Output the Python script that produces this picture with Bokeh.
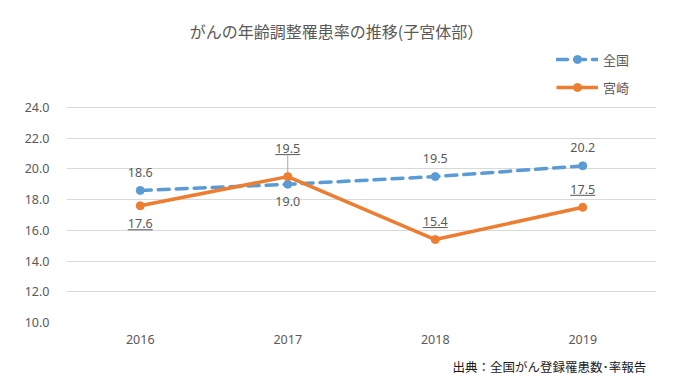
from bokeh.plotting import figure
from bokeh.models import (Range1d, FixedTicker, Legend, LegendItem, Label,
                          ColumnDataSource, Title)
from bokeh.core.properties import value
from bokeh.embed import file_html
from bokeh.resources import INLINE

# ---- data ----
years = ["2016", "2017", "2018", "2019"]
national = [18.6, 19.0, 19.5, 20.2]
miyazaki = [17.6, 19.5, 15.4, 17.5]
y_ticks = [10, 12, 14, 16, 18, 20, 22, 24]
title_text = "がんの年齢調整罹患率の推移(子宮体部）"
source_text = "出典：全国がん登録罹患数･率報告"
series_names = ["全国", "宮崎"]

BLUE = "#5B9BD5"
ORANGE = "#ED7D31"
GREY = "#595959"
JP = "Noto Sans CJK JP"
NUM = "Noto Sans"

# layout (pixels)
FRAME_H = 322            # frame spans from top of figure to the 10.0 gridline
PLOT_H = 215             # pixel distance between 10.0 and 24.0
px_per_unit = PLOT_H / (y_ticks[-1] - y_ticks[0])
y_top = y_ticks[0] + FRAME_H / px_per_unit

xs = list(range(len(years)))

p = figure(width=686, height=383, output_backend="svg", toolbar_location=None,
           x_range=Range1d(-0.5, len(years) - 0.5),
           y_range=Range1d(y_ticks[0], y_top),
           min_border_left=66, min_border_right=30, min_border_top=0,
           min_border_bottom=61)
p.outline_line_color = None
p.background_fill_color = "white"
p.border_fill_color = "white"

# axes
p.xaxis.ticker = FixedTicker(ticks=xs)
p.xaxis.major_label_overrides = {i: y for i, y in enumerate(years)}
p.yaxis.ticker = FixedTicker(ticks=y_ticks)
p.yaxis.major_label_overrides = {t: f"{t:.1f}" for t in y_ticks}
for ax in (p.xaxis[0], p.yaxis[0]):
    ax.axis_line_color = None
    ax.major_tick_line_color = None
    ax.minor_tick_line_color = None
    ax.major_tick_out = 0
    ax.major_tick_in = 0
    ax.major_label_text_color = GREY
    ax.major_label_text_font = NUM
    ax.major_label_text_font_size = "12.5px"
p.yaxis.major_label_standoff = 17
p.xaxis.major_label_standoff = 12
p.xgrid.grid_line_color = None
p.ygrid.ticker = FixedTicker(ticks=y_ticks)
p.ygrid.grid_line_color = "#D9D9D9"
p.ygrid.grid_line_width = 1

# series
r_nat_line = p.line(xs, national, line_color=BLUE, line_width=3.5,
                    line_dash="11 7", line_cap="round")
r_nat_pt = p.scatter(xs, national, size=8, fill_color=BLUE, line_color=BLUE)
r_miy_line = p.line(xs, miyazaki, line_color=ORANGE, line_width=3.5,
                    line_join="round")
r_miy_pt = p.scatter(xs, miyazaki, size=8, fill_color=ORANGE, line_color=ORANGE)

# data labels
nat_off = [-18, 17, -18, -18]
miy_off = [18, -28, -18, -18]
nat_src = ColumnDataSource(dict(x=xs, y=national, t=[f"{v:.1f}" for v in national], o=nat_off))
miy_src = ColumnDataSource(dict(x=xs, y=miyazaki, t=[f"{v:.1f}" for v in miyazaki], o=miy_off))
for src in (nat_src, miy_src):
    p.text(x="x", y="y", text="t", y_offset="o", source=src,
           text_align="center", text_baseline="middle",
           text_font=value(NUM), text_font_size="12.5px", text_color=GREY)

# underlines for the Miyazaki labels (px -> data units)
px_per_cat = 147.5
half_w = 12.5 / px_per_cat
ul_y = [v - (o + 6) / px_per_unit for v, o in zip(miyazaki, miy_off)]
p.segment(x0=[x - half_w for x in xs], x1=[x + half_w for x in xs],
          y0=ul_y, y1=ul_y, line_color=GREY, line_width=1)

# leader line for the 2017 Miyazaki label
i = 1
p.segment(x0=[xs[i]], x1=[xs[i]], y0=[ul_y[i]], y1=[miyazaki[i] + 4 / px_per_unit],
          line_color="#A6A6A6", line_width=1)

# legend
legend = Legend(items=[LegendItem(label=series_names[0], renderers=[r_nat_line, r_nat_pt]),
                       LegendItem(label=series_names[1], renderers=[r_miy_line, r_miy_pt])],
                location=(490, 225), orientation="vertical",
                glyph_width=42, glyph_height=20, label_height=20, spacing=8,
                padding=0, margin=0, label_standoff=5,
                label_text_font=JP, label_text_font_size="13px",
                label_text_color=GREY, border_line_color=None,
                background_fill_alpha=0)
p.add_layout(legend)

# title (inside the frame, above the plotting area)
p.add_layout(Label(x=270, y=292, x_units="screen", y_units="screen",
                   text=title_text, text_align="center", text_baseline="middle",
                   text_font=JP, text_font_size="16px", text_color=GREY))
# source note below the x axis
p.add_layout(Title(text=source_text, align="left", offset=386,
                   text_font=JP, text_font_size="12.5px", text_font_style="normal",
                   text_color="#1a1a1a", standoff=16), "below")

open("out.html", "w").write(file_html(p, INLINE))
